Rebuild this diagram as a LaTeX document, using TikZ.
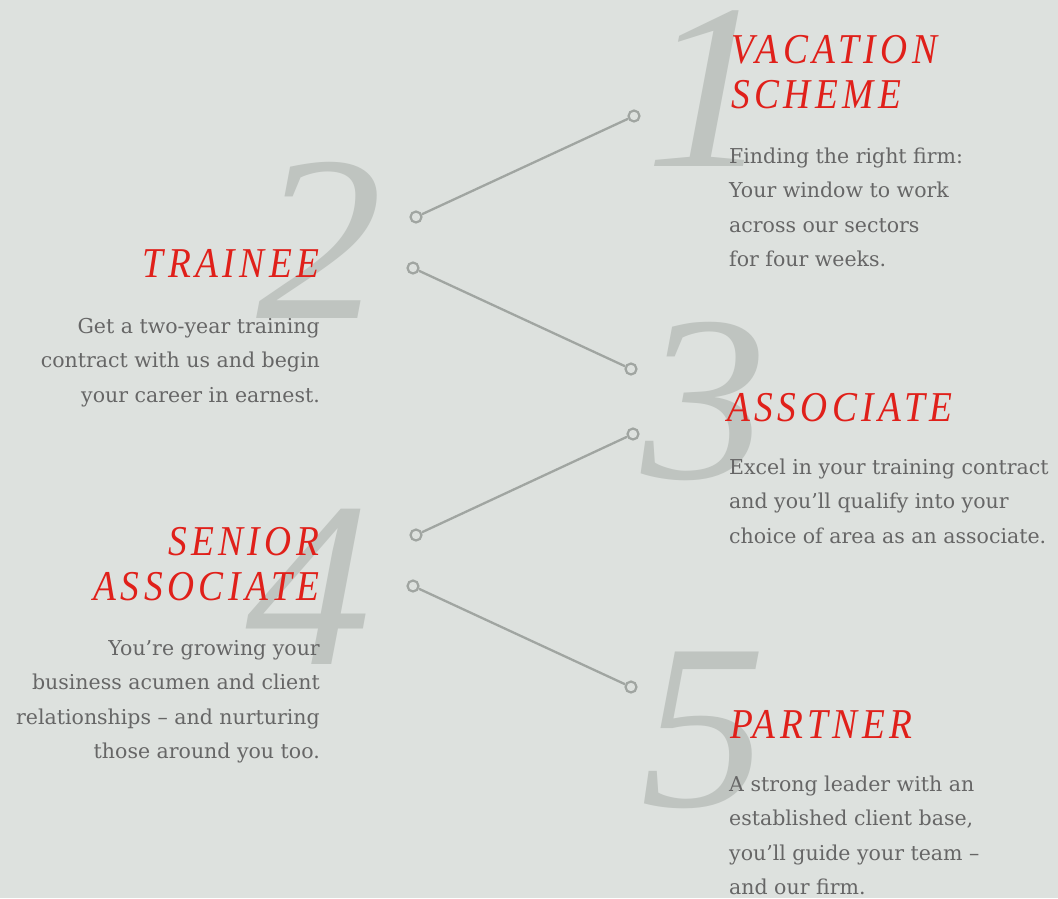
\documentclass[tikz,border=0pt]{standalone}
\usepackage{fontspec}
\setmainfont{DejaVu Serif}
\newfontfamily\headfont[LetterSpace=12]{Liberation Serif}
\newfontfamily\numfont{Liberation Serif}
\definecolor{bgc}{HTML}{DDE1DE}
\definecolor{numc}{HTML}{BFC4C0}
\definecolor{redc}{HTML}{E0201A}
\definecolor{txtc}{HTML}{666666}
\definecolor{linec}{HTML}{A0A5A1}
\newcommand{\hd}[1]{\scalebox{0.88}[1]{\headfont\itshape #1\kern-0.12em}}
\newcommand{\bn}[1]{\scalebox{1.07}[1]{#1}}
\tikzset{
  bignum/.style={font=\fontsize{236}{236}\numfont\itshape, text=numc, inner sep=0pt, anchor=base west},
  headL/.style={font=\fontsize{42.5}{45}\selectfont, text=redc, inner sep=0pt, anchor=base west},
  headR/.style={font=\fontsize{42.5}{45}\selectfont, text=redc, inner sep=0pt, anchor=base east},
  bodyL/.style={font=\fontsize{20.5}{34.5}\selectfont, text=txtc, inner sep=0pt, anchor=base west},
  bodyR/.style={font=\fontsize{20.5}{34.5}\selectfont, text=txtc, inner sep=0pt, anchor=base east},
  dot/.style={circle, draw=linec, fill=bgc, line width=2.2pt, minimum size=11pt, inner sep=0pt},
  conn/.style={draw=linec, line width=2.3pt}
}
\begin{document}
\begin{tikzpicture}[x=1pt,y=-1pt]
\fill[bgc] (0,0) rectangle (1058,898);
\useasboundingbox (0,0) rectangle (1058,898);
% big numbers
\node[bignum] (n1) at (645,166) {\bn{1}};
\node[bignum] (n2) at (256,318) {\bn{2}};
\node[bignum] (n3) at (641,478) {\bn{3}};
\node[bignum] (n4) at (245,664) {\bn{4}};
\node[bignum] (n5) at (640,806) {\bn{5}};
% connectors
\node[dot] (a1) at (416,217) {};
\node[dot] (b1) at (634,116) {};
\node[dot] (a2) at (413,268) {};
\node[dot] (b2) at (631,369) {};
\node[dot] (a3) at (416,535) {};
\node[dot] (b3) at (633,434) {};
\node[dot] (a4) at (413,586) {};
\node[dot] (b4) at (631,687) {};
\draw[conn] (a1) -- (b1);
\draw[conn] (a2) -- (b2);
\draw[conn] (a3) -- (b3);
\draw[conn] (a4) -- (b4);
% 1
\node[headL] (h1a) at (731,63) {\hd{VACATION}};
\node[headL] (h1b) at (731,108) {\hd{SCHEME}};
\node[bodyL] (t1) at (729,163) {\parbox[t]{320pt}{\raggedright Finding the right firm:\\Your window to work\\across our sectors\\for four weeks.}};
% 2
\node[headR] (h2) at (315,277) {\hd{TRAINEE}};
\node[bodyR] (t2) at (320,333) {\parbox[t]{320pt}{\raggedleft Get a two-year training\\contract with us and begin\\your career in earnest.}};
% 3
\node[headL] (h3) at (727,421) {\hd{ASSOCIATE}};
\node[bodyL] (t3) at (729,474) {\parbox[t]{330pt}{\raggedright Excel in your training contract\\and you’ll qualify into your\\choice of area as an associate.}};
% 4
\node[headR] (h4a) at (315,555) {\hd{SENIOR}};
\node[headR] (h4b) at (315,600) {\hd{ASSOCIATE}};
\node[bodyR] (t4) at (320,655) {\parbox[t]{320pt}{\raggedleft You’re growing your\\business acumen and client\\relationships – and nurturing\\those around you too.}};
% 5
\node[headL] (h5) at (730,738) {\hd{PARTNER}};
\node[bodyL] (t5) at (729,791) {\parbox[t]{320pt}{\raggedright A strong leader with an\\established client base,\\you’ll guide your team –\\and our firm.}};
\end{tikzpicture}
\end{document}
